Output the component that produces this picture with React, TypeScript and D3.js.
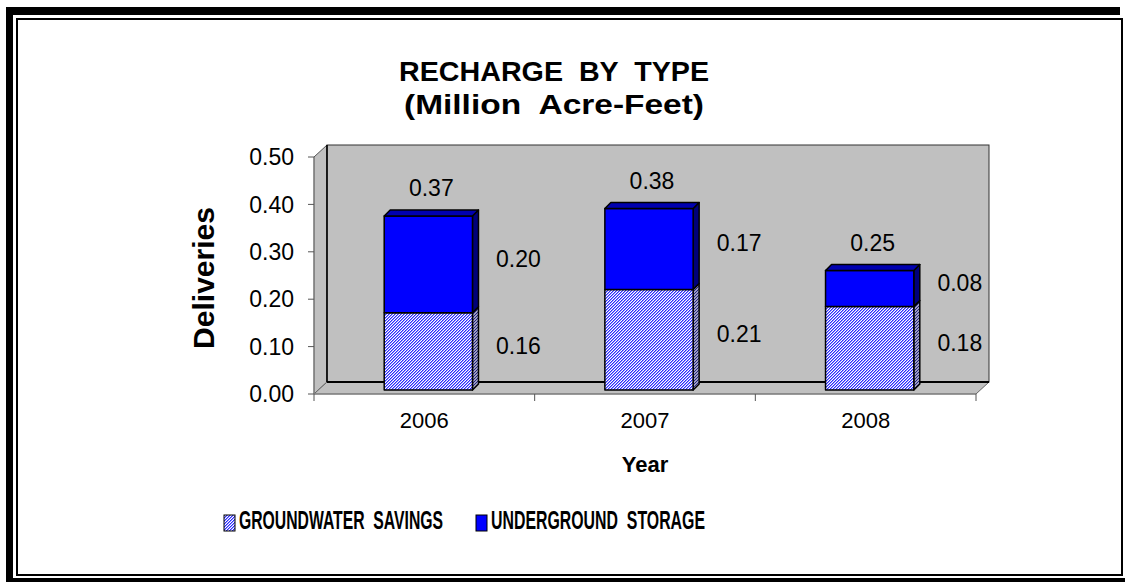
import React from 'react';
import * as d3 from 'd3';

const years = ['2006', '2007', '2008'];
const groundwater = [0.163, 0.212, 0.176];
const underground = [0.204, 0.171, 0.076];
const yTicks = [0, 0.1, 0.2, 0.3, 0.4, 0.5];
const seriesNames = ['GROUNDWATER  SAVINGS', 'UNDERGROUND  STORAGE'];
const titleLines = ['RECHARGE  BY  TYPE', '(Million  Acre-Feet)'];

const FONT = "'Liberation Sans', Arial, sans-serif";

export default function App() {
  const W = 1125, H = 582;
  const x0 = 314, x1 = 976, yBase = 394, yTopPx = 157;
  const dX = 13, dY = -12; // wall depth
  const bx = 4, by = -4; // bar plane offset
  const bdX = 6, bdY = -6; // bar depth

  const x = d3.scaleBand<string>().domain(years).range([x0, x1]).paddingInner(0.6).paddingOuter(0.3);
  const step = x.step();
  const y = d3.scaleLinear().domain([0, 0.5]).range([yBase, yTopPx]);
  const yb = (v: number) => y(v) + by;

  const poly = (pts: [number, number][]) => 'M' + pts.map(p => p.join(',')).join('L') + 'Z';

  const bars = years.map((yr, i) => {
    const left = (x(yr) as number) + bx;
    const right = left + x.bandwidth();
    const g = groundwater[i];
    const u = underground[i];
    const t = g + u;
    return { yr, left, right, g, u, t };
  });

  const fmt = (v: number) => v.toFixed(2);

  return (
    <svg width={W} height={H} style={{ position: 'absolute', left: 0, top: 0, display: 'block', background: '#fff' }}
      fontFamily={FONT}>
      <defs>
        <pattern id="gwFront" patternUnits="userSpaceOnUse" width="3" height="3">
          <rect width="3" height="3" fill="#ffffff" />
          <rect x="0" y="0" width="1" height="1" fill="#2a2aff" />
          <rect x="1" y="2" width="1" height="1" fill="#2a2aff" />
          <rect x="2" y="1" width="1" height="1" fill="#2a2aff" />
          <rect x="1" y="0" width="1" height="1" fill="#9090ff" />
          <rect x="2" y="2" width="1" height="1" fill="#9090ff" />
          <rect x="0" y="1" width="1" height="1" fill="#9090ff" />
        </pattern>
        <pattern id="gwSide" patternUnits="userSpaceOnUse" width="3" height="3">
          <rect width="3" height="3" fill="#a0a0c0" />
          <rect x="0" y="0" width="1" height="1" fill="#202080" />
          <rect x="1" y="2" width="1" height="1" fill="#202080" />
          <rect x="2" y="1" width="1" height="1" fill="#202080" />
        </pattern>
      </defs>

      {/* frame */}
      <rect x={6} y={7} width={7} height={H - 7} fill="#000" />
      <rect x={6} y={7} width={1114} height={8} fill="#000" />
      <rect x={6} y={578} width={W - 6} height={4} fill="#000" />
      <rect x={17} y={19} width={1105} height={556} fill="none" stroke="#000" strokeWidth={2} />

      {/* title */}
      {titleLines.map((t, i) => (
        <text key={t} x={554} y={81 + i * 33} textAnchor="middle" fontSize={28} fontWeight="bold"
          textLength={i === 0 ? 310 : 300} lengthAdjust="spacingAndGlyphs"
          style={{ whiteSpace: 'pre' }}>{t}</text>
      ))}

      {/* walls */}
      <path d={poly([[x0, yBase], [x0, yTopPx], [x0 + dX, yTopPx + dY], [x0 + dX, yBase + dY]])}
        fill="#c0c0c0" stroke="#555" strokeWidth={1} />
      <rect x={x0 + dX} y={yTopPx + dY} width={x1 - x0} height={yBase - yTopPx}
        fill="#c0c0c0" stroke="#333" strokeWidth={1} />
      <path d={poly([[x0, yBase], [x0 + dX, yBase + dY], [x1 + dX, yBase + dY], [x1, yBase]])}
        fill="#c0c0c0" stroke="#666" strokeWidth={1} />
      <line x1={x0 + dX} x2={x1 + dX} y1={yBase + dY} y2={yBase + dY} stroke="#000" strokeWidth={2} />
      <line x1={x0 + dX} x2={x0 + dX} y1={yTopPx + dY} y2={yBase + dY} stroke="#000" strokeWidth={1.5} />

      {/* y axis */}
      <line x1={x0} x2={x0} y1={yBase} y2={yTopPx} stroke="#808080" strokeWidth={1} />
      {yTicks.map(v => (
        <g key={v}>
          <line x1={x0 - 6} x2={x0} y1={y(v)} y2={y(v)} stroke="#555" strokeWidth={1} />
          <text x={x0 - 20} y={y(v)} dy="0.36em" textAnchor="end" fontSize={23}>{fmt(v)}</text>
        </g>
      ))}
      <text transform={`translate(${214},${278}) rotate(-90)`} textAnchor="middle" fontSize={30} fontWeight="bold">Deliveries</text>

      {/* x axis */}
      <line x1={x0} x2={x1} y1={yBase} y2={yBase} stroke="#808080" strokeWidth={1} />
      {d3.range(years.length + 1).map(i => (
        <line key={i} x1={x0 + i * step} x2={x0 + i * step} y1={yBase} y2={yBase + 7} stroke="#555" strokeWidth={1} />
      ))}
      {years.map(yr => (
        <text key={yr} x={(x(yr) as number) + x.bandwidth() / 2} y={428} textAnchor="middle" fontSize={22}>{yr}</text>
      ))}
      <text x={645} y={472} textAnchor="middle" fontSize={22} fontWeight="bold">Year</text>

      {/* bars */}
      {bars.map(b => {
        const yB = yb(0), yG = yb(b.g), yT = yb(b.t);
        return (
          <g key={b.yr} stroke="#000" strokeWidth={1.5} strokeLinejoin="round">
            <path d={poly([[b.right, yB], [b.right, yG], [b.right + bdX, yG + bdY], [b.right + bdX, yB + bdY]])} fill="url(#gwSide)" />
            <rect x={b.left} y={yG} width={b.right - b.left} height={yB - yG} fill="url(#gwFront)" />
            <path d={poly([[b.right, yG], [b.right, yT], [b.right + bdX, yT + bdY], [b.right + bdX, yG + bdY]])} fill="#00007a" />
            <rect x={b.left} y={yT} width={b.right - b.left} height={yG - yT} fill="#0000ff" />
            <path d={poly([[b.left, yT], [b.left + bdX, yT + bdY], [b.right + bdX, yT + bdY], [b.right, yT]])} fill="#0000b0" />
          </g>
        );
      })}

      {/* data labels */}
      {bars.map(b => (
        <g key={'l' + b.yr} fontSize={23}>
          <text x={(b.left + b.right + bdX) / 2} y={yb(b.t) + bdY - 22} dy="0.36em" textAnchor="middle">{fmt(b.t)}</text>
          <text x={b.right + 46} y={yb((b.g + b.t) / 2) - 6} dy="0.36em" textAnchor="middle">{fmt(b.u)}</text>
          <text x={b.right + 46} y={yb(b.g / 2) - 6} dy="0.36em" textAnchor="middle">{fmt(b.g)}</text>
        </g>
      ))}

      {/* legend */}
      <rect x={224} y={515} width={11} height={16} fill="url(#gwFront)" stroke="#000" strokeWidth={1} />
      <text transform="translate(239,529) scale(0.63,1)" fontSize={25} fontWeight="bold"
        style={{ whiteSpace: 'pre' }}>{seriesNames[0]}</text>
      <rect x={476} y={515} width={11} height={16} fill="#0000ff" stroke="#000" strokeWidth={1} />
      <text transform="translate(491,529) scale(0.635,1)" fontSize={25} fontWeight="bold"
        style={{ whiteSpace: 'pre' }}>{seriesNames[1]}</text>
    </svg>
  );
}
